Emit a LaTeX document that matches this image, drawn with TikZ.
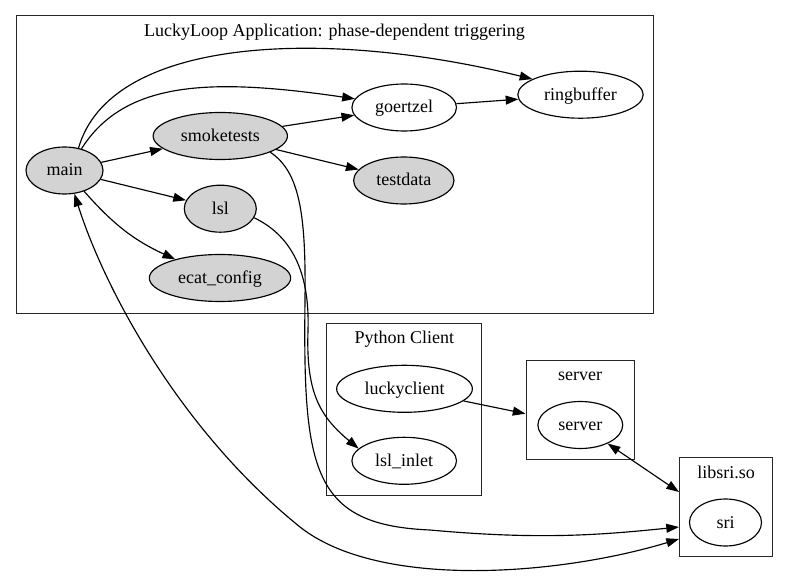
\documentclass[tikz,border=0pt]{standalone}
\usepackage{fontspec}
\setmainfont{Liberation Serif}
\usetikzlibrary{arrows.meta,shapes.geometric}
\definecolor{gvgrey}{HTML}{D3D3D3}
\begin{document}
\begin{tikzpicture}[x=1pt, y=1pt, line width=1.15pt, font=\fontsize{18pt}{21pt}\selectfont,
        >={Triangle[length=12.7pt,width=8.9pt]},
        unit/.style = {draw, ellipse, fill=white, inner xsep=8pt, inner ysep=0pt,
                       minimum width=72pt, minimum height=47pt, text height=12pt, text depth=1pt},
        filled/.style = {unit, fill=gvgrey},
        cluster/.style = {draw=black!85, line width=1pt, rectangle, inner sep=0pt},
        title/.style = {inner sep=0pt, text height=12pt, text depth=1pt}]
    \useasboundingbox (0,0) rectangle (789,-577);

    % clusters
    \node[cluster, minimum width=637pt, minimum height=297pt] (app) at (334.5,-164.5) {};
    \node[title] (appT) at (334.5,-31) {LuckyLoop Application: phase-dependent triggering};
    \node[cluster, minimum width=155pt, minimum height=172pt] (pyclient) at (404.3,-409.4) {};
    \node[title] (pyclientT) at (404.3,-338) {Python Client};
    \node[cluster, minimum width=108pt, minimum height=99pt] (servercl) at (580,-409.7) {};
    \node[title] (serverclT) at (580,-375) {server};
    \node[cluster, minimum width=93pt, minimum height=99pt] (libsri) at (726,-507) {};
    \node[title] (libsriT) at (726,-472.5) {libsri.so};

    % nodes
    \node[filled, minimum width=77pt] (main) at (64.5,-170.5) {main};
    \node[filled] (smoke)    at (220.3,-136)   {smoketests};
    \node[filled] (lsl)      at (220.3,-208.7) {lsl};
    \node[filled] (ecat)     at (220,-278)     {ecat\_config};
    \node[unit]   (goertzel) at (404.2,-107.5) {goertzel};
    \node[filled] (testdata) at (403.8,-180.5) {testdata};
    \node[unit]   (ring)     at (580.5,-94.7)  {ringbuffer};
    \node[unit]   (lucky)    at (404.5,-388.8) {luckyclient};
    \node[unit]   (inlet)    at (404.2,-460.8) {lsl\_inlet};
    \node[unit]   (server)   at (580.3,-425)   {server};
    \node[unit]   (sri)      at (725.5,-522.5) {sri};

    % edges
    \draw[->] (main) -- (smoke);
    \draw[->] (main) -- (lsl);
    \draw[->] (main) to[bend right=12] (ecat);
    \draw[->] (main.52) .. controls (125,-80) and (212,-78) .. (goertzel.170);
    \draw[->] (main.58) .. controls (110,-38) and (320,-27) .. (ring.162);
    \draw[->] (smoke) -- (goertzel);
    \draw[->] (smoke) -- (testdata);
    \draw[->] (goertzel) -- (ring);
    \draw[->] (smoke.-18) .. controls (300,-172) and (306,-215) .. (305,-300)
        .. controls (303,-470) and (312,-525) .. (430,-530)
        .. controls (540,-540) and (600,-535) .. ([yshift=-20pt]libsri.west);
    \draw[->] (lsl.-15) .. controls (290,-235) and (310,-270) .. (308,-330)
        .. controls (306,-390) and (318,-415) .. (inlet.165);
    \draw[->] (lucky) -- ([yshift=-4pt]servercl.west);
    \draw[<->] (server) -- ([yshift=15pt]libsri.west);
    \draw[<->] (main.293) .. controls (105,-290) and (180,-430) .. (300,-527)
        .. controls (380,-590) and (560,-575) .. ([yshift=-32pt]libsri.west);
\end{tikzpicture}
\end{document}
